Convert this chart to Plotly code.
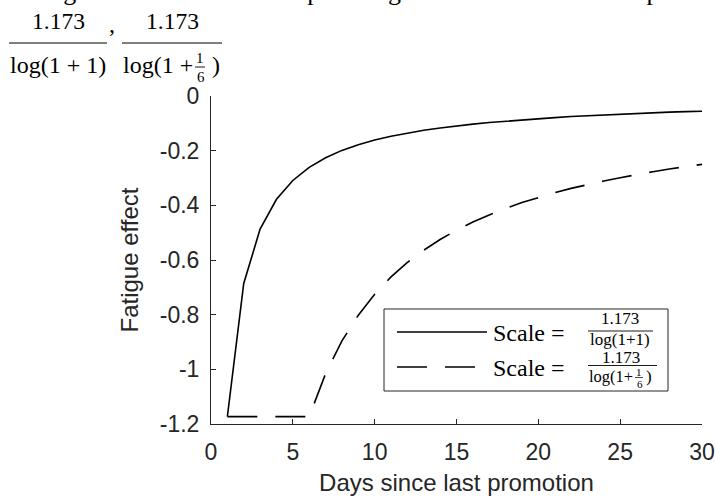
import plotly.graph_objects as go

# ---------------- data ----------------
days = list(range(1, 31))
fatigue_scale_a = [-1.173, -0.686, -0.487, -0.378, -0.309, -0.261, -0.226, -0.199, -0.178, -0.161,
                   -0.147, -0.136, -0.125, -0.117, -0.109, -0.103, -0.097, -0.092, -0.087, -0.083,
                   -0.079, -0.075, -0.072, -0.069, -0.066, -0.064, -0.062, -0.059, -0.057, -0.056]
fatigue_scale_b = [-1.173, -1.173, -1.173, -1.173, -1.173, -1.173, -1.016, -0.896, -0.802, -0.725,
                   -0.662, -0.609, -0.564, -0.525, -0.491, -0.461, -0.435, -0.411, -0.390, -0.371,
                   -0.354, -0.338, -0.324, -0.311, -0.299, -0.287, -0.277, -0.267, -0.258, -0.250]
x_ticks = [0, 5, 10, 15, 20, 25, 30]
x_tick_labels = ["0", "5", "10", "15", "20", "25", "30"]
y_ticks = [-1.2, -1.0, -0.8, -0.6, -0.4, -0.2, 0]
y_tick_labels = ["-1.2", "-1", "-0.8", "-0.6", "-0.4", "-0.2", "0"]
x_title = "Days since last promotion"
y_title = "Fatigue effect"
title_line1 = "Weight values that each map to fatigue functions with scale parameters"
numerator = "1.173"

# ---------------- layout geometry (pixels) ----------------
W, H = 715, 498
L, R, T, B = 211, 702, 96, 424
SERIF = "Liberation Serif"
SANS = "Liberation Sans, Arial, sans-serif"
AX = "#262626"


def X(px):
    return (px - L) / (R - L)


def Y(py):
    return (B - py) / (B - T)


fig = go.Figure()
fig.add_trace(go.Scatter(x=days, y=fatigue_scale_a, mode="lines",
                         line=dict(color="black", width=1.6), showlegend=False))
fig.add_trace(go.Scatter(x=days, y=fatigue_scale_b, mode="lines",
                         line=dict(color="black", width=1.6, dash="30px,18px"), showlegend=False))

annotations = []
shapes = []


def txt(s, px, py, size, anchor="center", font=SERIF, color="black"):
    annotations.append(dict(text=s, x=X(px), y=Y(py), xref="paper", yref="paper",
                            xanchor=anchor, yanchor="middle", showarrow=False,
                            font=dict(family=font, size=size, color=color)))


def hline(x0, x1, py, width=1.2, color="black", dash=None):
    ln = dict(color=color, width=width)
    if dash:
        ln["dash"] = dash
    shapes.append(dict(type="line", xref="paper", yref="paper",
                       x0=X(x0), x1=X(x1), y0=Y(py), y1=Y(py), line=ln))


# ---- title (top line clipped by page edge, as in the reference) ----
txt(title_line1, 20, -9, 26, anchor="left")
# first fraction
txt(numerator, 58, 21, 23.5)
hline(9, 107, 43)
txt("log(1 + 1)", 58, 65, 24)
txt(",", 112, 24, 24)
# second fraction
txt(numerator, 172, 21, 23.5)
hline(122, 222, 43)
txt("log(1 +", 121, 65, 24, anchor="left")
txt("1", 200, 58, 15)
hline(195, 205, 67, width=0.9)
txt("6", 200.5, 77, 15)
txt(")", 216, 65, 24)

# ---- legend (custom, to reproduce the stacked fractions) ----
shapes.append(dict(type="rect", xref="paper", yref="paper",
                   x0=X(384), x1=X(668), y0=Y(309), y1=Y(391),
                   line=dict(color=AX, width=1), fillcolor="white", layer="above"))
hline(397, 487, 332, width=1.6)
hline(397, 475, 367, width=1.6, dash="30px,18px")
txt("Scale =", 491, 332.5, 24, anchor="left")
txt(numerator, 620, 318.5, 17)
hline(588, 653, 331, width=0.9)
txt("log(1+1)", 620, 339, 17)
txt("Scale =", 491, 367.5, 24, anchor="left")
txt(numerator, 621, 357.5, 17)
hline(588, 657, 365.5, width=0.9)
txt("log(1+", 587, 376, 16.5, anchor="left")
txt("1", 639, 371.5, 11)
hline(635, 643, 377.5, width=0.7)
txt("6", 639.5, 384, 11)
txt(")", 649, 376, 17)

axis_common = dict(showline=True, linecolor=AX, linewidth=1, mirror=False,
                   ticks="inside", ticklen=5, tickwidth=1, tickcolor=AX,
                   showgrid=False, zeroline=False, automargin=False,
                   tickfont=dict(family=SANS, size=23, color=AX))

fig.update_layout(
    width=W, height=H,
    margin=dict(l=L, r=W - R, t=T, b=H - B, pad=0, autoexpand=False),
    paper_bgcolor="white", plot_bgcolor="white",
    showlegend=False,
    xaxis=dict(range=[0, 30], tickmode="array", tickvals=x_ticks, ticktext=x_tick_labels,
               ticklabelstandoff=7,
               title=dict(text=x_title, font=dict(family=SANS, size=24, color=AX), standoff=10),
               **axis_common),
    yaxis=dict(range=[-1.2, 0], tickmode="array", tickvals=y_ticks, ticktext=y_tick_labels,
               ticklabelstandoff=6,
               title=dict(text=y_title, font=dict(family=SANS, size=24, color=AX), standoff=14),
               **axis_common),
    annotations=annotations,
    shapes=shapes,
)

fig.write_html("out.html", config={"displayModeBar": False},
               post_script="document.body.style.margin='0px';document.body.style.overflow='hidden';")
